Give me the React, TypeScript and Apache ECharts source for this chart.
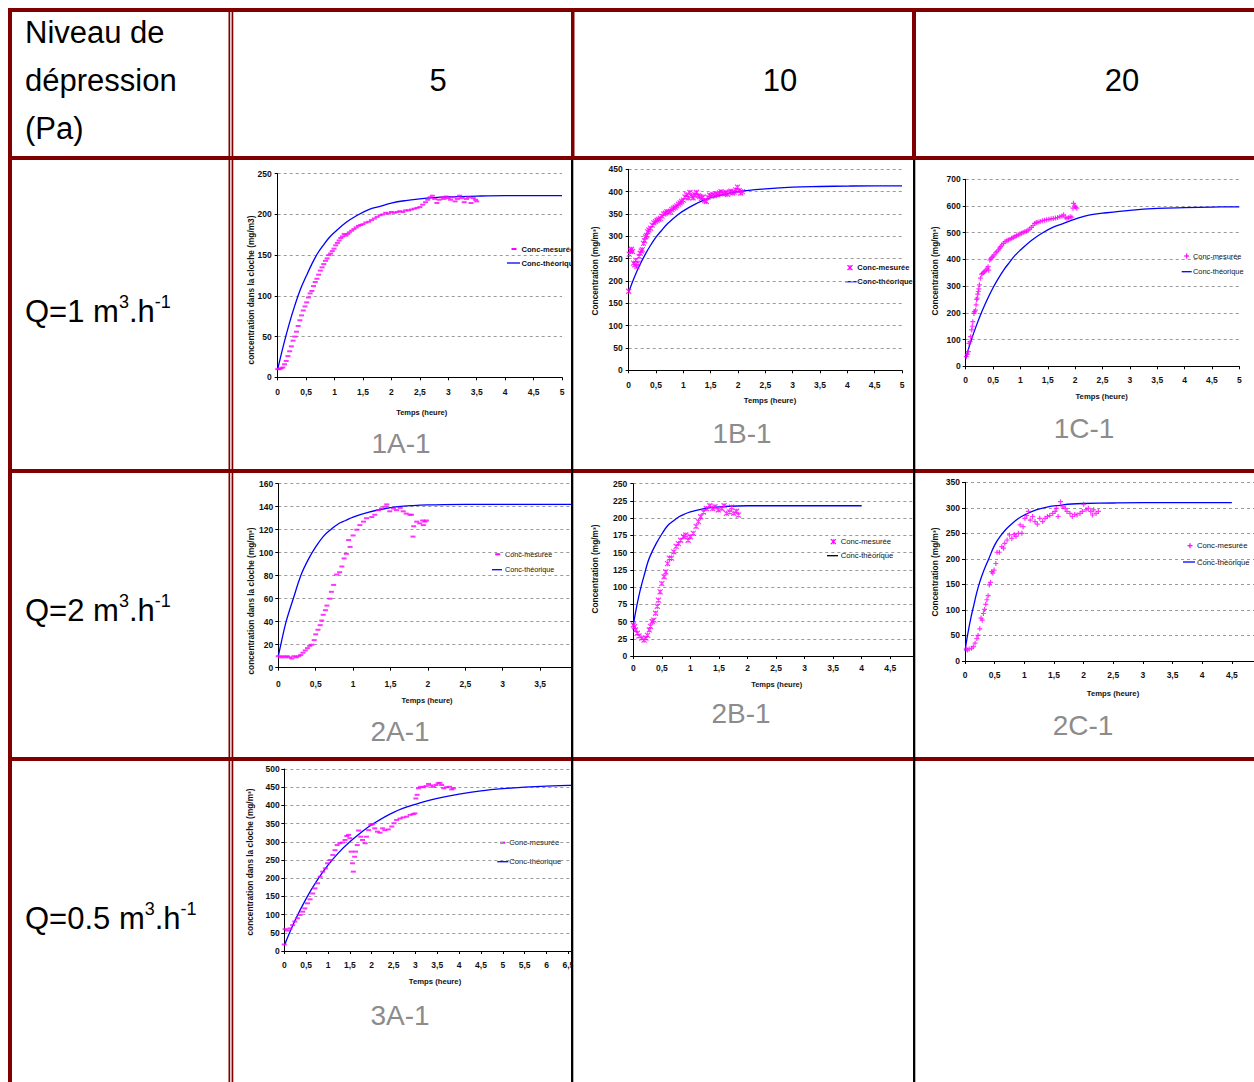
import React, { useEffect, useRef } from "react";
import * as echarts from "echarts";

// ---------- texts ----------
const headerLines = ["Niveau de", "dépression", "(Pa)"];
const colHeaders = ["5", "10", "20"];
const rowFlows = ["1", "2", "0.5"];
const captions = ["1A-1", "1B-1", "1C-1", "2A-1", "2B-1", "2C-1", "3A-1"];
const X_TITLE = "Temps (heure)";
const Y_TITLE_CLOCHE = "concentration dans la cloche (mg/m3)";
const Y_TITLE_CLOCHE3 = "concentration dans la cloche (mg/m³)";
const Y_TITLE_CONC = "Concentration (mg/m³)";
const LEG_MEAS = "Conc-mesurée";
const LEG_THEO = "Conc-théorique";

// ---------- data ----------
const measured1A = [[0,10],[0.03,10],[0.06,11],[0.09,12],[0.12,16],[0.15,20],[0.18,26],[0.21,32],[0.24,38],[0.27,45],[0.3,50],[0.33,56],[0.36,63],[0.39,70],[0.42,76],[0.45,82],[0.48,87],[0.51,92],[0.54,98],[0.57,103],[0.6,106],[0.63,112],[0.66,117],[0.69,121],[0.72,126],[0.75,131],[0.78,135],[0.81,139],[0.84,143],[0.87,146],[0.9,150],[0.93,152],[0.96,155],[0.99,158],[1.02,162],[1.05,165],[1.08,168],[1.11,171],[1.14,173],[1.17,176],[1.2,174],[1.23,176],[1.26,178],[1.3,180],[1.34,182],[1.38,184],[1.42,186],[1.46,187],[1.5,188],[1.55,190],[1.6,191],[1.65,193],[1.7,195],[1.75,197],[1.8,199],[1.85,200],[1.9,202],[1.95,201],[2.0,203],[2.05,202],[2.1,203],[2.15,204],[2.2,203],[2.25,205],[2.3,205],[2.35,206],[2.4,207],[2.45,208],[2.5,209],[2.55,212],[2.6,215],[2.64,218],[2.68,221],[2.72,223],[2.76,219],[2.8,214],[2.84,218],[2.88,221],[2.92,219],[2.96,222],[3.0,220],[3.04,218],[3.08,221],[3.12,216],[3.16,219],[3.2,223],[3.24,220],[3.28,215],[3.32,219],[3.36,221],[3.4,214],[3.44,220],[3.48,218],[3.5,216]];
const theory1A = [[0,10],[0.1,39],[0.2,65],[0.3,88],[0.4,108],[0.5,124],[0.6,139],[0.7,152],[0.8,162],[0.9,171],[1.0,178],[1.2,190],[1.4,199],[1.6,206],[1.8,210],[2.0,214],[2.25,217],[2.5,219],[2.75,220.5],[3.0,221.5],[3.5,222.5],[4.0,223],[4.5,223],[5.0,223]];

const measured1B = [[0,177],[0.01,260],[0.03,268],[0.05,271],[0.07,266],[0.09,240],[0.11,236],[0.13,246],[0.15,232],[0.17,240],[0.19,255],[0.21,262],[0.23,267],[0.25,270],[0.27,284],[0.29,290],[0.31,299],[0.33,302],[0.35,310],[0.37,314],[0.4,318],[0.43,325],[0.46,330],[0.49,333],[0.52,336],[0.55,338],[0.58,340],[0.61,345],[0.64,350],[0.67,352],[0.7,355],[0.73,354],[0.76,356],[0.79,360],[0.82,363],[0.85,365],[0.88,368],[0.91,372],[0.94,375],[0.97,378],[1.0,381],[1.03,388],[1.06,393],[1.09,386],[1.12,398],[1.15,390],[1.18,386],[1.21,393],[1.24,398],[1.27,391],[1.3,389],[1.33,385],[1.36,388],[1.39,380],[1.42,378],[1.45,387],[1.48,392],[1.51,390],[1.54,394],[1.57,391],[1.6,395],[1.63,393],[1.66,397],[1.69,400],[1.72,397],[1.75,395],[1.78,398],[1.81,394],[1.84,399],[1.87,401],[1.9,397],[1.93,399],[1.96,404],[1.99,410],[2.02,402],[2.05,397],[2.08,400]];
const theory1B = [[0,175],[0.1,207],[0.2,235],[0.3,259],[0.4,280],[0.5,298],[0.6,313],[0.7,327],[0.8,338],[0.9,348],[1.0,357],[1.2,371],[1.4,382],[1.6,390],[1.8,395],[2.0,400],[2.5,406],[3.0,410],[3.5,411.5],[4.0,412.5],[4.5,413],[5.0,413]];

const measured1C = [[0.01,36],[0.03,45],[0.05,55],[0.06,86],[0.08,92],[0.09,111],[0.11,136],[0.12,150],[0.13,167],[0.15,198],[0.16,205],[0.18,210],[0.19,230],[0.2,250],[0.21,255],[0.22,270],[0.23,280],[0.24,290],[0.25,305],[0.27,330],[0.29,345],[0.31,348],[0.33,352],[0.35,355],[0.37,360],[0.39,367],[0.41,373],[0.42,360],[0.44,398],[0.46,402],[0.48,408],[0.5,412],[0.52,417],[0.55,425],[0.57,429],[0.6,436],[0.62,442],[0.64,448],[0.66,454],[0.69,460],[0.72,467],[0.75,470],[0.78,473],[0.81,476],[0.84,479],[0.87,482],[0.9,486],[0.93,489],[0.96,492],[0.99,495],[1.02,498],[1.05,501],[1.08,504],[1.11,506],[1.14,510],[1.17,514],[1.2,520],[1.23,527],[1.26,535],[1.29,538],[1.32,540],[1.36,542],[1.4,545],[1.44,547],[1.48,549],[1.52,550],[1.56,552],[1.6,553],[1.64,555],[1.68,557],[1.72,560],[1.76,563],[1.79,567],[1.82,558],[1.85,554],[1.88,556],[1.91,560],[1.94,558],[1.96,592],[1.97,610],[1.99,600],[2.01,596],[2.03,592]];
const theory1C = [[0,30],[0.1,97],[0.2,155],[0.3,207],[0.4,253],[0.5,294],[0.6,330],[0.7,362],[0.8,389],[0.9,415],[1.0,435],[1.2,471],[1.4,499],[1.6,521],[1.8,536],[2.0,551],[2.25,566],[2.5,573],[3.0,584],[3.5,591],[4.0,594],[4.5,596],[5.0,597]];

const measured2A = [[0,10],[0.03,9],[0.06,10],[0.09,9],[0.12,10],[0.15,9],[0.18,8],[0.21,10],[0.24,9],[0.27,10],[0.3,11],[0.33,13],[0.36,15],[0.39,17],[0.42,19],[0.45,20],[0.48,24],[0.5,29],[0.53,33],[0.56,37],[0.58,41],[0.6,46],[0.63,50],[0.65,54],[0.69,60],[0.71,66],[0.74,72],[0.78,81],[0.82,83],[0.85,88],[0.88,95],[0.91,99],[0.94,111],[0.96,105],[1.0,115],[1.05,120],[1.09,124],[1.14,127],[1.18,130],[1.25,131],[1.29,133],[1.34,137],[1.38,138.5],[1.43,140],[1.45,142],[1.49,136],[1.54,138.5],[1.58,137],[1.63,139],[1.67,136],[1.71,134],[1.76,133],[1.78,133],[1.8,114],[1.81,123],[1.85,127],[1.89,125.5],[1.93,128],[1.94,124],[1.96,127],[1.98,128]];
const theory2A = [[0,10],[0.05,25],[0.1,39],[0.15,50],[0.2,60],[0.3,80],[0.4,94],[0.5,105],[0.6,114],[0.7,120],[0.8,125],[0.9,128],[1.0,131],[1.2,135],[1.4,138],[1.6,140],[1.8,141],[2.0,141.5],[2.5,142],[3.0,142],[3.5,142],[4.0,142]];

const measured2B = [[0,45],[0.02,42.5],[0.04,38],[0.07,33],[0.1,29],[0.15,26],[0.19,23],[0.22,26],[0.25,30],[0.28,38],[0.3,43],[0.33,50],[0.36,52],[0.39,62],[0.42,72],[0.44,81],[0.47,93],[0.5,105],[0.54,115],[0.57,122],[0.6,134],[0.63,142],[0.67,142],[0.71,151],[0.75,159],[0.79,163],[0.83,168],[0.88,173],[0.92,175.5],[0.96,168],[1.0,173],[1.05,178],[1.1,188],[1.14,195],[1.18,202],[1.23,209],[1.28,214],[1.34,218],[1.39,214],[1.43,216.6],[1.49,212],[1.55,214],[1.59,218],[1.63,207],[1.69,209],[1.72,216],[1.76,207],[1.81,210],[1.84,204.5]];
const theory2B = [[0,45],[0.05,68],[0.1,88],[0.15,105],[0.2,120],[0.25,135],[0.3,146],[0.4,163],[0.5,177],[0.6,189],[0.7,196],[0.8,202],[0.9,206],[1.0,209],[1.2,213],[1.4,215.5],[1.6,217],[2.0,218],[2.5,218],[3.0,218],[3.5,218],[4.0,218]];

const measured2C = [[0.02,23.5],[0.04,21.5],[0.07,23.5],[0.11,25],[0.14,28],[0.17,35],[0.2,44],[0.22,50],[0.25,63],[0.27,84],[0.29,80],[0.31,93],[0.33,101],[0.35,111],[0.37,120],[0.39,128],[0.41,149],[0.43,154],[0.45,175],[0.47,172],[0.49,178],[0.52,191],[0.54,213],[0.58,213],[0.62,224],[0.65,221],[0.67,230.5],[0.71,237],[0.75,247],[0.79,240],[0.83,248],[0.86,244],[0.9,250],[0.93,266.5],[0.96,250],[0.98,263],[1.01,279.5],[1.04,285],[1.07,293],[1.1,276],[1.14,283],[1.18,273],[1.22,268],[1.26,279.5],[1.31,273],[1.35,279.5],[1.39,283],[1.43,285],[1.48,289],[1.52,293],[1.54,299],[1.57,283],[1.61,312],[1.65,302],[1.69,299],[1.72,293],[1.77,289],[1.81,283],[1.85,287],[1.89,286],[1.94,289],[1.98,293],[2.0,307],[2.04,296],[2.08,299],[2.12,293],[2.15,286],[2.17,296],[2.21,289],[2.25,293]];
const theory2C = [[0,20],[0.05,55],[0.1,85],[0.15,110],[0.2,135],[0.25,155],[0.3,172],[0.4,200],[0.5,227],[0.6,245],[0.7,259],[0.8,270],[0.9,279],[1.0,286],[1.2,296],[1.4,302],[1.6,305],[1.8,307.5],[2.0,308.5],[2.5,309.5],[3.0,310],[3.5,310],[4.0,310],[4.5,310]];

const measured3A = [[0,18],[0.02,60],[0.07,56],[0.13,62],[0.19,71],[0.24,81],[0.3,90],[0.36,99],[0.42,108],[0.47,117],[0.53,131],[0.59,142],[0.65,158],[0.7,172],[0.76,186],[0.82,204],[0.88,218],[0.94,227],[0.99,241],[1.05,250],[1.11,264],[1.16,277],[1.21,291],[1.27,296],[1.33,298],[1.39,305],[1.43,316],[1.47,319],[1.5,310],[1.53,273],[1.56,241],[1.58,218],[1.61,259],[1.63,273],[1.67,291],[1.7,331],[1.75,314],[1.79,305],[1.85,296],[1.88,314],[1.93,332],[1.98,346],[2.02,349],[2.07,337],[2.13,328],[2.19,325],[2.25,337],[2.3,332],[2.38,334],[2.46,342],[2.51,351],[2.57,360],[2.65,364],[2.72,367],[2.8,369],[2.88,374],[2.95,376],[2.99,378],[3.01,419],[3.04,429],[3.07,447],[3.12,451],[3.18,450],[3.24,453],[3.3,459],[3.35,455],[3.41,451],[3.47,456],[3.52,461],[3.56,462],[3.6,456],[3.65,447],[3.71,450],[3.78,451],[3.83,444],[3.87,447]];
const theory3A = [[0,15],[0.25,85],[0.5,144],[0.75,194],[1.0,236],[1.25,271],[1.5,300],[1.75,325],[2.0,347],[2.5,381],[3.0,403],[3.5,419],[4.0,431],[4.5,440],[5.0,446],[5.5,450],[6.0,453],[6.5,455],[7.0,457]];

// ---------- styles ----------
const RED = "#800000";
const MAGENTA = "#ff00ff";
const BLUE = "#0000ff";
const SANS = "'Liberation Sans', Arial, Helvetica, sans-serif";

const SYMBOLS: any = {
  dash: { symbol: "rect", symbolSize: [5, 2], itemStyle: { color: MAGENTA } },
  xstar: { symbol: "path://M0 0L10 10M10 0L0 10M5 0L5 10", symbolSize: 5, itemStyle: { color: "rgba(0,0,0,0)", borderColor: MAGENTA, borderWidth: 1.2 } },
  plus: { symbol: "path://M5 0L5 10M0 5L10 5", symbolSize: 5, itemStyle: { color: "rgba(0,0,0,0)", borderColor: MAGENTA, borderWidth: 1.2 } },
};

// ---------- layout (page coordinates) ----------
const CHARTS: any[] = [
  { box: [234, 160, 337, 309], plot: [277.7, 173.7, 562, 377.3], xMax: 5, xShow: 5, yMax: 250, yInt: 50, marker: "dash", measured: measured1A, theory: theory1A,
    yLM: 6, xLM: 10.5, yTitle: Y_TITLE_CLOCHE, yTP: [251, 290], xTP: [421.7, 412], xTS: 7.5,
    leg: { m: [514, 249], t: 521.5, l: [507, 520, 263], bold: true, fs: 7.6, lc: BLUE }, cap: captions[0], capP: [401, 443] },
  { box: [573, 160, 340, 309], plot: [628.7, 169.3, 902, 370.3], xMax: 5, xShow: 5, yMax: 450, yInt: 50, marker: "xstar", measured: measured1B, theory: theory1B,
    yLM: 6, xLM: 10, yTitle: Y_TITLE_CONC, yTP: [595, 271], xTP: [770, 400.7], xTS: 7.7,
    leg: { m: [850, 267.7], t: 857.3, l: [845, 856.7, 281.7], bold: true, fs: 7.5, lc: BLUE }, cap: captions[1], capP: [742, 433] },
  { box: [915, 160, 339, 309], plot: [965.7, 179.3, 1239.3, 366.3], xMax: 5, xShow: 5, yMax: 700, yInt: 100, marker: "plus", measured: measured1C, theory: theory1C,
    yLM: 5, xLM: 9, yTitle: Y_TITLE_CONC, yTP: [935, 271], xTP: [1101.7, 396.7], xTS: 7.7,
    leg: { m: [1186.7, 256], t: 1193, l: [1181.7, 1191.7, 271.7], bold: false, fs: 7.4, lc: BLUE }, cap: captions[2], capP: [1084, 428] },
  { box: [234, 473, 337, 284], plot: [278.3, 483.7, 577.5, 667.7], xMax: 4, xShow: 3.5, yMax: 160, yInt: 20, marker: "dash", measured: measured2A, theory: theory2A,
    yLM: 5, xLM: 12, yTitle: Y_TITLE_CLOCHE3, yTP: [251, 601], xTP: [427, 700], xTS: 7.5,
    leg: { m: [497.7, 554.3], t: 505, l: [492, 502, 569.7], bold: false, fs: 7.2, lc: BLUE }, cap: captions[3], capP: [400, 731] },
  { box: [573, 473, 340, 284], plot: [633.3, 483.7, 918.8, 656], xMax: 5, xShow: 4.5, yMax: 250, yInt: 25, marker: "xstar", measured: measured2B, theory: theory2B,
    yLM: 6, xLM: 7, yTitle: Y_TITLE_CONC, yTP: [595, 569], xTP: [776.7, 684], xTS: 7.5,
    leg: { m: [833.3, 541.7], t: 840.7, l: [827, 838, 555.7], bold: false, fs: 7.7, lc: "#000000" }, cap: captions[4], capP: [741, 713] },
  { box: [915, 473, 339, 284], plot: [965, 482.3, 1261.5, 661], xMax: 5, xShow: 4.5, yMax: 350, yInt: 50, marker: "plus", measured: measured2C, theory: theory2C,
    yLM: 5, xLM: 9, yTitle: Y_TITLE_CONC, yTP: [935, 572], xTP: [1113, 693], xTS: 7.7,
    leg: { m: [1190, 545.7], t: 1197, l: [1183, 1195, 562], bold: false, fs: 7.7, lc: BLUE }, cap: captions[5], capP: [1083, 725] },
  { box: [234, 761, 337, 321], plot: [284.3, 769, 590.2, 951], xMax: 7, xShow: 6.5, yMax: 500, yInt: 50, marker: "dash", measured: measured3A, theory: theory3A,
    yLM: 4.5, xLM: 9, yTitle: Y_TITLE_CLOCHE3, yTP: [250, 862], xTP: [435, 981.7], xTS: 7.7,
    leg: { m: [502.7, 842.7], t: 509.3, l: [497.3, 508.3, 861.7], bold: false, fs: 7.6, lc: BLUE }, cap: captions[6], capP: [400, 1015] },
];

function legendMarker(kind: string, x: number, y: number) {
  if (kind === "dash") {
    return [{ type: "rect", shape: { x: x - 2.5, y: y - 1, width: 5, height: 2 }, style: { fill: MAGENTA } }];
  }
  const s = { stroke: MAGENTA, lineWidth: 1.2 };
  if (kind === "xstar") {
    return [
      { type: "line", shape: { x1: x - 2.5, y1: y - 2.5, x2: x + 2.5, y2: y + 2.5 }, style: s },
      { type: "line", shape: { x1: x + 2.5, y1: y - 2.5, x2: x - 2.5, y2: y + 2.5 }, style: s },
      { type: "line", shape: { x1: x, y1: y - 2.5, x2: x, y2: y + 2.5 }, style: s },
    ];
  }
  return [
    { type: "line", shape: { x1: x, y1: y - 2.5, x2: x, y2: y + 2.5 }, style: s },
    { type: "line", shape: { x1: x - 2.5, y1: y, x2: x + 2.5, y2: y }, style: s },
  ];
}

function buildChartOption(c: any) {
  const [bx, by] = c.box;
  const [px0, py0, px1, py1] = c.plot;
  const L = (x: number) => x - bx;
  const T = (y: number) => y - by;
  const fmt = (v: number) => (v > c.xShow + 1e-9 ? "" : String(v).replace(".", ","));
  const axisFont = { fontSize: 8.5, fontWeight: "bold", fontFamily: SANS, color: "#111" };
  const legFont = { fontSize: c.leg.fs, fontWeight: c.leg.bold ? "bold" : "normal", fontFamily: SANS, fill: "#111", align: "left", verticalAlign: "middle" };
  const sym = SYMBOLS[c.marker];

  const graphic: any[] = [
    { type: "text", x: L(c.yTP[0]), y: T(c.yTP[1]), rotation: Math.PI / 2,
      style: { text: c.yTitle, fontSize: 8.3, fontWeight: "bold", fontFamily: SANS, fill: "#111", align: "center", verticalAlign: "middle" } },
    { type: "text", x: L(c.xTP[0]), y: T(c.xTP[1]),
      style: { text: X_TITLE, fontSize: c.xTS, fontWeight: "bold", fontFamily: SANS, fill: "#111", align: "center", verticalAlign: "middle" } },
    ...legendMarker(c.marker, L(c.leg.m[0]), T(c.leg.m[1])),
    { type: "text", x: L(c.leg.t), y: T(c.leg.m[1]), style: { text: LEG_MEAS, ...legFont } },
    { type: "line", shape: { x1: L(c.leg.l[0]), y1: T(c.leg.l[2]), x2: L(c.leg.l[1]), y2: T(c.leg.l[2]) }, style: { stroke: c.leg.lc, lineWidth: 1.3 } },
    { type: "text", x: L(c.leg.t), y: T(c.leg.l[2]), style: { text: LEG_THEO, ...legFont } },
    { type: "text", x: L(c.capP[0]), y: T(c.capP[1]),
      style: { text: c.cap, fontSize: 28, fontFamily: SANS, fill: "#8c8c8c", align: "center", verticalAlign: "middle" } },
  ];

  return {
    animation: false,
    grid: { left: L(px0), top: T(py0), width: px1 - px0, height: py1 - py0, containLabel: false, outerBoundsMode: "none" },
    xAxis: {
      type: "value", min: 0, max: c.xMax, interval: 0.5,
      axisLine: { show: true, onZero: false, lineStyle: { color: "#000", width: 1 } },
      axisTick: { show: true, length: 3, lineStyle: { color: "#000" } },
      axisLabel: { ...axisFont, margin: c.xLM, formatter: fmt, showMinLabel: true, showMaxLabel: true, hideOverlap: false },
      splitLine: { show: false },
    },
    yAxis: {
      type: "value", min: 0, max: c.yMax, interval: c.yInt,
      axisLine: { show: true, onZero: false, lineStyle: { color: "#000", width: 1 } },
      axisTick: { show: true, length: 3, lineStyle: { color: "#000" } },
      axisLabel: { ...axisFont, margin: c.yLM },
      splitLine: { show: true, lineStyle: { color: "#9a9a9a", width: 1, type: [3, 3] } },
    },
    series: [
      { type: "line", name: LEG_THEO, data: c.theory, showSymbol: false, smooth: 0.4, lineStyle: { color: BLUE, width: 1.3 }, z: 2, silent: true },
      { type: "scatter", name: LEG_MEAS, data: c.measured, symbol: sym.symbol, symbolSize: sym.symbolSize, itemStyle: sym.itemStyle, z: 3, silent: true },
    ],
    graphic,
  };
}

function buildTableOption() {
  const rect = (x: number, y: number, w: number, h: number, fill: string) =>
    ({ type: "rect", shape: { x, y, width: w, height: h }, style: { fill }, silent: true });
  const els: any[] = [
    rect(8, 8, 1246, 4, RED),
    rect(8, 8, 4, 1074, RED),
    rect(8, 156, 1246, 4, RED),
    rect(8, 469, 1246, 4, RED),
    rect(8, 757, 1246, 4, RED),
    rect(228.5, 8, 1.7, 1074, RED),
    rect(231.6, 8, 1.7, 1074, RED),
    rect(571, 8, 3.5, 152, RED),
    rect(912, 8, 4, 152, RED),
    rect(571, 160, 2.3, 922, "#000"),
    rect(913, 160, 2.3, 922, "#000"),
  ];
  const big = { fontSize: 31, fontFamily: SANS, fill: "#000" };
  headerLines.forEach((t, i) => {
    els.push({ type: "text", x: 25, y: 32 + i * 48, style: { text: t, ...big, align: "left", verticalAlign: "middle" } });
  });
  colHeaders.forEach((t, i) => {
    els.push({ type: "text", x: 438 + i * 342, y: 80, style: { text: t, ...big, align: "center", verticalAlign: "middle" } });
  });
  const rowY = [311, 610, 918];
  rowFlows.forEach((q, i) => {
    els.push({
      type: "text", x: 25, y: rowY[i],
      style: {
        text: `{a|Q=${q} m}{s|3}{a|.h}{s|-1}`,
        align: "left", verticalAlign: "middle",
        rich: {
          a: { fontSize: 31, fontFamily: SANS, fill: "#000", lineHeight: 36 },
          s: { fontSize: 18, fontFamily: SANS, fill: "#000", lineHeight: 20, verticalAlign: "top" },
        },
      },
    });
  });
  return { animation: false, graphic: els };
}

function ChartCell({ cfg }: { cfg: any }) {
  const ref = useRef<HTMLDivElement>(null);
  useEffect(() => {
    const chart = echarts.init(ref.current as HTMLDivElement, null, { renderer: "svg" });
    chart.setOption(buildChartOption(cfg));
    return () => chart.dispose();
  }, [cfg]);
  const [x, y, w, h] = cfg.box;
  return <div ref={ref} style={{ position: "absolute", left: x, top: y, width: w, height: h, overflow: "hidden" }} />;
}

export default function App() {
  const ref = useRef<HTMLDivElement>(null);
  useEffect(() => {
    const chart = echarts.init(ref.current as HTMLDivElement, null, { renderer: "svg" });
    chart.setOption(buildTableOption());
    return () => chart.dispose();
  }, []);
  return (
    <div style={{ position: "fixed", left: 0, top: 0, width: 1254, height: 1082, background: "#fff", overflow: "hidden" }}>
      <div ref={ref} style={{ position: "absolute", left: 0, top: 0, width: 1254, height: 1082 }} />
      {CHARTS.map((c, i) => <ChartCell key={i} cfg={c} />)}
    </div>
  );
}
